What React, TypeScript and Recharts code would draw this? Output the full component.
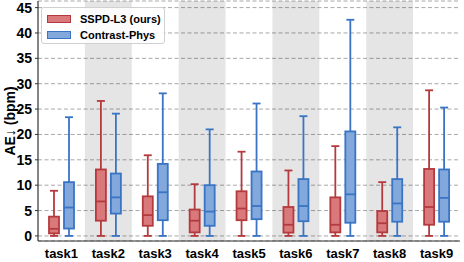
import React from 'react';
import { ComposedChart, Bar, XAxis, YAxis, CartesianGrid, ReferenceArea } from 'recharts';

const categories = ['task1', 'task2', 'task3', 'task4', 'task5', 'task6', 'task7', 'task8', 'task9'];
const shadedTasks = ['task2', 'task4', 'task6', 'task8'];
const yTicks = [0, 5, 10, 15, 20, 25, 30, 35, 40, 45];

// SSPD-L3 (ours)
const sspdMin = [0, 0, 0, 0, 0, 0, 0, 0, 0];
const sspdQ1 = [0.5, 3.0, 2.0, 0.7, 3.1, 0.65, 0.7, 0.7, 2.2];
const sspdMed = [1.4, 6.8, 4.1, 3.0, 5.4, 2.2, 2.2, 2.5, 5.7];
const sspdQ3 = [3.8, 13.1, 7.8, 5.2, 8.8, 5.7, 7.6, 4.9, 13.2];
const sspdMax = [8.9, 26.6, 15.9, 10.2, 16.6, 12.9, 17.7, 10.6, 28.7];

// Contrast-Phys
const cpMin = [0, 0, 0, 0, 0, 0, 0, 0, 0];
const cpQ1 = [1.45, 4.4, 3.1, 2.0, 3.3, 2.9, 2.6, 2.8, 2.8];
const cpMed = [5.6, 7.6, 8.6, 4.8, 5.9, 5.9, 8.2, 6.4, 7.5];
const cpQ3 = [10.6, 12.3, 14.2, 10.0, 12.7, 11.2, 20.6, 11.2, 13.1];
const cpMax = [23.4, 24.1, 28.1, 21.0, 26.1, 23.6, 42.6, 21.4, 25.3];

const data = categories.map((name, i) => ({
  name,
  sspd: [sspdMin[i], sspdMax[i]],
  sspdQ1: sspdQ1[i],
  sspdMed: sspdMed[i],
  sspdQ3: sspdQ3[i],
  cp: [cpMin[i], cpMax[i]],
  cpQ1: cpQ1[i],
  cpMed: cpMed[i],
  cpQ3: cpQ3[i],
}));

const RED_FILL = '#d9797b';
const RED_EDGE = '#b43a3e';
const BLUE_FILL = '#82a8dc';
const BLUE_EDGE = '#3a74c4';
const FONT = '"Liberation Sans", Arial, sans-serif';

const makeBox = (key: string, fill: string, stroke: string) => (props: any) => {
  const { x, y, width, height, payload } = props;
  if (x == null || y == null) return <g />;
  const [lo, hi] = payload[key];
  const q1 = payload[key + 'Q1'];
  const med = payload[key + 'Med'];
  const q3 = payload[key + 'Q3'];
  const top = Math.min(y, y + height);
  const h = Math.abs(height);
  const py = (v: number) => top + (h * (hi - v)) / (hi - lo);
  const cx = x + width / 2;
  const capHalf = 4;
  const sw = 1.8;
  return (
    <g>
      <line x1={cx} x2={cx} y1={py(hi)} y2={py(q3)} stroke={stroke} strokeWidth={sw} />
      <line x1={cx} x2={cx} y1={py(q1)} y2={py(lo)} stroke={stroke} strokeWidth={sw} />
      <line x1={cx - capHalf} x2={cx + capHalf} y1={py(hi)} y2={py(hi)} stroke={stroke} strokeWidth={sw} />
      <line x1={cx - capHalf} x2={cx + capHalf} y1={py(lo)} y2={py(lo)} stroke={stroke} strokeWidth={sw} />
      <rect
        x={x}
        y={py(q3)}
        width={width}
        height={py(q1) - py(q3)}
        fill={fill}
        stroke={stroke}
        strokeWidth={sw}
      />
      <line x1={x} x2={x + width} y1={py(med)} y2={py(med)} stroke={stroke} strokeWidth={sw} />
    </g>
  );
};

const legendItems = [
  { label: 'SSPD-L3 (ours)', fill: RED_FILL, edge: RED_EDGE },
  { label: 'Contrast-Phys', fill: BLUE_FILL, edge: BLUE_EDGE },
];

export default function App() {
  return (
    <div style={{ position: 'fixed', left: 0, top: 0, width: 464, height: 262, background: '#fff' }}>
      <ComposedChart
        width={464}
        height={262}
        data={data}
        margin={{ top: 1, right: 4, bottom: 0, left: 0 }}
        barSize={10}
        barGap={5}
      >
        {shadedTasks.map((t) => (
          <ReferenceArea
            key={t}
            x1={t}
            x2={t}
            y1={-1}
            y2={46.3}
            fill="#000"
            fillOpacity={0.1}
            stroke="none"
            ifOverflow="hidden"
          />
        ))}
        <CartesianGrid vertical={false} strokeDasharray="4 2.5" stroke="#a8a8a8" strokeWidth={1} />
        <XAxis
          dataKey="name"
          height={21}
          tickLine={false}
          axisLine={{ stroke: '#333', strokeWidth: 1.2 }}
          tick={{ fill: '#000', fontSize: 13, fontWeight: 'bold', fontFamily: FONT }}
          tickMargin={2}
        />
        <XAxis xAxisId="top" dataKey="name" orientation="top" height={0} tick={false} tickLine={false} axisLine={{ stroke: '#b0b0b0', strokeWidth: 1.2 }} />
        <YAxis
          width={38}
          type="number"
          domain={[-1, 46.3]}
          ticks={yTicks}
          allowDataOverflow
          tickSize={3}
          tickMargin={3}
          tickLine={{ stroke: '#333' }}
          axisLine={{ stroke: '#333', strokeWidth: 1.2 }}
          tick={{ fill: '#000', fontSize: 14, fontWeight: 'bold', fontFamily: FONT }}
          label={(p: any) => {
            const vb = p.viewBox || {};
            const cy = (vb.y ?? 1) + (vb.height ?? 240) / 2;
            return (
              <text
                x={10}
                y={cy}
                transform={`rotate(-90, 10, ${cy})`}
                textAnchor="middle"
                dominantBaseline="central"
                fontSize={14}
                fontWeight="bold"
                fontFamily={FONT}
                fill="#000"
              >
                AE↓ (bpm)
              </text>
            );
          }}
        />
        <YAxis yAxisId="right" orientation="right" width={0} type="number" domain={[-1, 46.3]} tick={false} tickLine={false} axisLine={{ stroke: '#b0b0b0', strokeWidth: 1.2 }} />
        <Bar dataKey="sspd" isAnimationActive={false} shape={makeBox('sspd', RED_FILL, RED_EDGE)} />
        <Bar dataKey="cp" isAnimationActive={false} shape={makeBox('cp', BLUE_FILL, BLUE_EDGE)} />
      </ComposedChart>
      <div
        style={{
          position: 'absolute',
          left: 41,
          top: 7,
          width: 124,
          height: 37,
          boxSizing: 'border-box',
          border: '1px solid #d0d0d0',
          borderRadius: 3,
          background: 'rgba(255,255,255,0.85)',
          fontFamily: FONT,
          fontWeight: 'bold',
          fontSize: 11,
          color: '#000',
        }}
      >
        {legendItems.map((it, i) => (
          <div key={it.label} style={{ position: 'absolute', left: 5, top: 6 + i * 16, height: 10, display: 'flex', alignItems: 'center', whiteSpace: 'nowrap' }}>
            <span
              style={{
                display: 'inline-block',
                width: 24,
                height: 8,
                boxSizing: 'border-box',
                background: it.fill,
                border: `1.5px solid ${it.edge}`,
                marginRight: 9,
              }}
            />
            <span style={{ lineHeight: '10px' }}>{it.label}</span>
          </div>
        ))}
      </div>
    </div>
  );
}
